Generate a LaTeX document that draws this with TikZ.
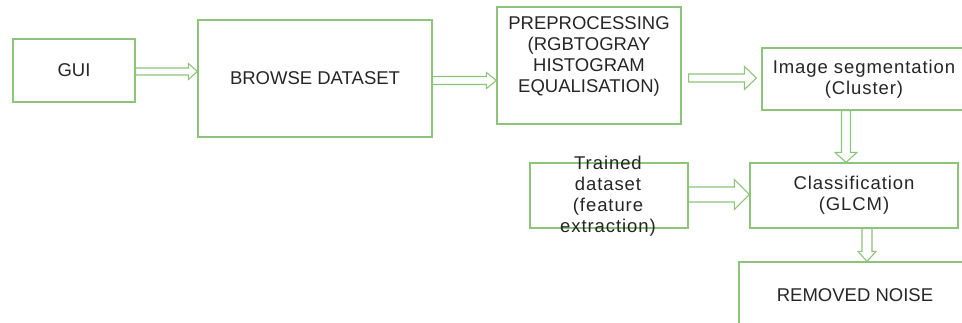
\documentclass[tikz,border=0pt]{standalone}
\usepackage{fontspec}
\setmainfont{Liberation Sans}
\newfontfamily\spaced[LetterSpace=5]{Liberation Sans}
\usetikzlibrary{calc}
\definecolor{boxgreen}{HTML}{8CC47A}
\definecolor{txt}{HTML}{262626}
\begin{document}
\begin{tikzpicture}[x=1pt,y=-1pt,
  box/.style={draw=boxgreen,line width=1.2pt,inner sep=0pt,text=txt,
    font=\fontsize{18.5}{21}\selectfont,align=center},
  lbl/.style={inner sep=0pt,text=txt,font=\fontsize{18.5}{21}\selectfont,align=center},
  slbl/.style={inner sep=0pt,text=txt,font=\spaced\fontsize{18.5}{21}\selectfont,align=center},
  hfat/.style n args={3}{draw=boxgreen,line width=1.1pt,fill=white,
    to path={let \p1=(\tikztostart), \p2=(\tikztotarget) in
      (\x1,\y1+#1) -- (\x2-#3,\y1+#1) -- (\x2-#3,\y1+#2) -- (\x2,\y1)
      -- (\x2-#3,\y1-#2) -- (\x2-#3,\y1-#1) -- (\x1,\y1-#1) -- cycle}},
  vfat/.style n args={3}{draw=boxgreen,line width=1.1pt,fill=white,
    to path={let \p1=(\tikztostart), \p2=(\tikztotarget) in
      (\x1-#1,\y1) -- (\x1-#1,\y2+#3) -- (\x1-#2,\y2+#3) -- (\x1,\y2)
      -- (\x1+#2,\y2+#3) -- (\x1+#1,\y2+#3) -- (\x1+#1,\y1) -- cycle}}]
\useasboundingbox[fill=white] (0,0) rectangle (962,323);
\begin{scope}
\clip (0,0) rectangle (962,323);
% boxes
\node[box,minimum width=122pt,minimum height=63pt] (gui) at (74,70.5) {GUI};
\node[box,minimum width=234pt,minimum height=117pt] (browse) at (315,78.5) {BROWSE DATASET};
\node[box,minimum width=184pt,minimum height=117pt] (pre) at (589,65.5) {};
\node[lbl] (pretext) at (589,56) {PREPROCESSING\\(RGBTOGRAY\\HISTOGRAM\\EQUALISATION)};
\node[box,minimum width=204pt,minimum height=62pt,font=\spaced\fontsize{18.5}{21}\selectfont] (seg) at (864,79) {Image segmentation\\(Cluster)};
\node[box,minimum width=208pt,minimum height=65pt,font=\spaced\fontsize{18.5}{21}\selectfont] (class) at (854,195.5) {Classification\\(GLCM)};
\node[box,minimum width=158pt,minimum height=65pt] (trained) at (609,195.5) {};
\node[slbl] (trainedtext) at (608,196) {Trained\\dataset\\(feature\\extraction)};
\node[box,minimum width=232pt,minimum height=67pt] (removed) at (855,295.5) {REMOVED NOISE};
% connectors
\draw[hfat={3.5pt}{8pt}{9pt}] ([yshift=-1pt]gui.east) to (browse.west);
\draw[hfat={4pt}{8pt}{10pt}] ([yshift=-2pt]browse.east) to (pre.west);
\draw[hfat={4pt}{11.5pt}{12pt}] ([xshift=7pt,yshift=1pt]pre.east |- seg.west) to ([xshift=-5pt]seg.west);
\draw[vfat={4.5pt}{11pt}{10pt}] ([xshift=-18pt]seg.south) to ([xshift=-18pt]class.north);
\draw[hfat={7.5pt}{15pt}{15pt}] ([yshift=1pt]trained.east) to (class.west);
\draw[vfat={5pt}{9pt}{10pt}] ([xshift=13pt]class.south) to (removed.north);
\end{scope}
\end{tikzpicture}
\end{document}
